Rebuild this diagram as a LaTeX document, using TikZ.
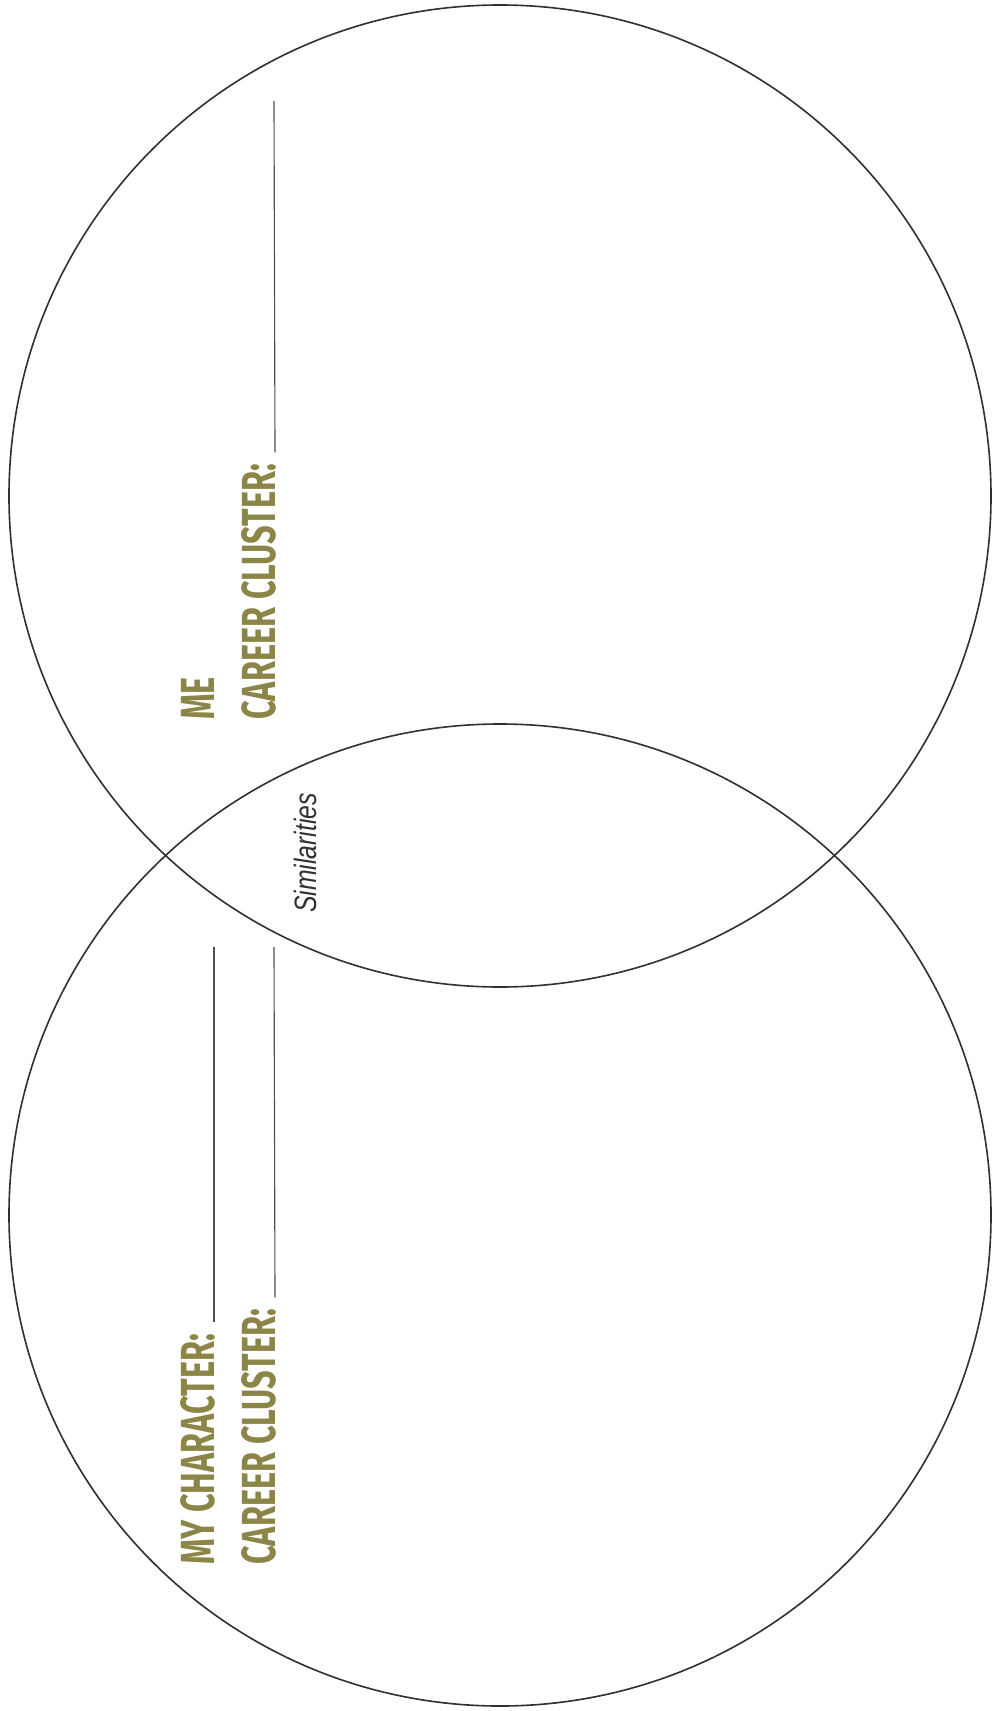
\documentclass[tikz,border=0pt]{standalone}
\usepackage{fontspec}
\newfontfamily\labelfont[FakeStretch=0.68]{Fira Sans}
\newfontfamily\notefont[FakeStretch=0.8]{Liberation Sans}
\definecolor{olive}{RGB}{140,133,72}
\definecolor{ring}{RGB}{52,47,48}
\definecolor{rule}{RGB}{80,78,78}

\begin{document}
\begin{tikzpicture}[x=0.025cm,y=-0.025cm,
  venn/.style={draw=ring,line width=1.15pt},
  field/.style={rotate=90,anchor=base west,inner sep=0pt,text=olive,
    font=\labelfont\bfseries\fontsize{34}{36}\selectfont},
  blank/.style={draw=rule,line width=0.8pt}]
\useasboundingbox (0,0) rectangle (997,1711);
\draw[venn] (500,496) circle [radius=491];
\draw[venn] (500,1215) circle [radius=491];
% me
\node[field] (me) at (214,720) {ME};
\node[field] (cc1) at (275,720) {CAREER CLUSTER:};
\coordinate (cc1end) at (274,101);
\draw[blank] ([yshift=8pt]cc1.base east) -- (cc1end);
% character
\node[field] (chr) at (214,1565) {MY CHARACTER:};
\coordinate (chrend) at (214,947);
\draw[blank] ([yshift=8pt]chr.base east) -- (chrend);
\node[field] (cc2) at (275,1565) {CAREER CLUSTER:};
\coordinate (cc2end) at (274,947);
\draw[blank] ([yshift=8pt]cc2.base east) -- (cc2end);
% overlap
\node[rotate=90,anchor=base west,inner sep=0pt,text=ring,
  font=\notefont\itshape\fontsize{22}{24}\selectfont] (sim) at (316,913) {Similarities};
\end{tikzpicture}
\end{document}
